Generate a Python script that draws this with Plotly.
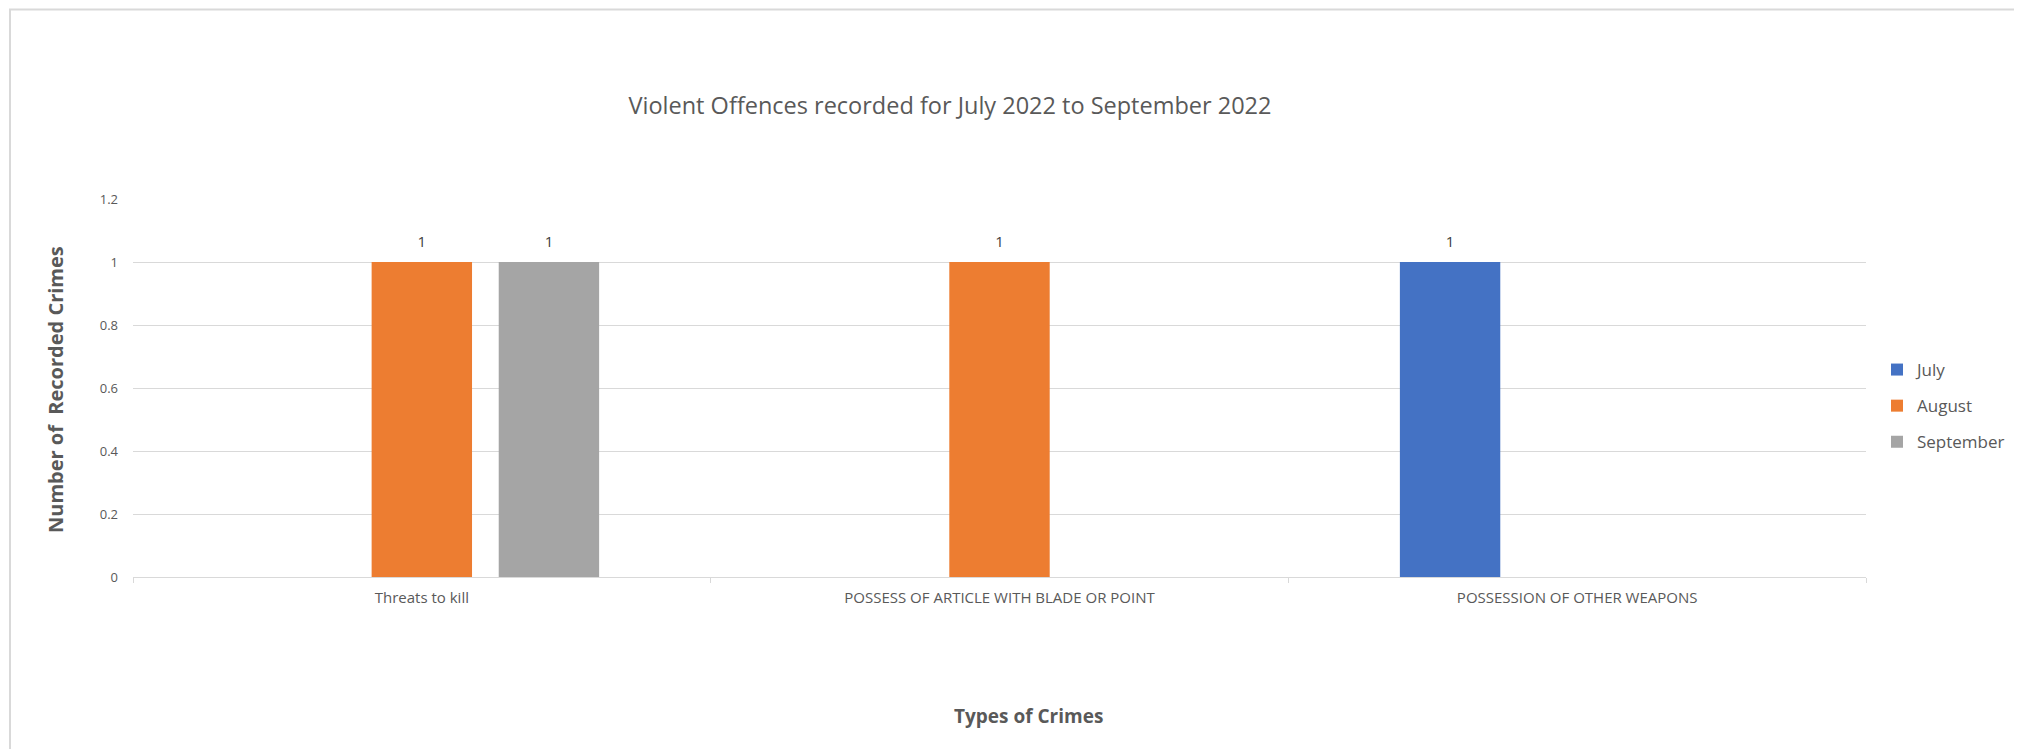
import plotly.graph_objects as go

categories = ["Threats to kill", "POSSESS OF ARTICLE WITH BLADE OR POINT", "POSSESSION OF OTHER WEAPONS"]
months = ["July", "August", "September"]
july = [None, None, 1]
august = [1, 1, None]
september = [1, None, None]
series_values = [july, august, september]
colors = ["#4472C4", "#ED7D31", "#A5A5A5"]
y_ticks = [0, 0.2, 0.4, 0.6, 0.8, 1, 1.2]
y_tick_labels = ["0", "0.2", "0.4", "0.6", "0.8", "1", "1.2"]

FONT = "Open Sans"
OFF = 8  # default page body margin
W, H = 2022 - 2 * OFF, 749 - OFF
L = 133 - OFF
T = 199 - OFF
R = W - (1866 - OFF)
B = H - (577 - OFF)
pw = W - L - R
ph = H - T - B


def px_x(p):
    return (p - OFF - L) / pw


def px_y(p):
    return (H - B - (p - OFF)) / ph


fig = go.Figure()
for name, vals, col in zip(months, series_values, colors):
    fig.add_trace(go.Bar(
        x=categories, y=vals, name=name, marker=dict(color=col, line=dict(width=0)),
        offsetgroup=name, alignmentgroup="g", legendgroup=name,
    ))
for name, vals, col in zip(months, series_values, colors):
    fig.add_trace(go.Scatter(
        x=categories, y=vals, mode="markers+text",
        text=[("%g" % v if v is not None else "") for v in vals],
        textposition="top center", marker=dict(size=16, opacity=0),
        textfont=dict(family=FONT, size=15, color="#404040"), cliponaxis=False,
        offsetgroup=name, alignmentgroup="g", showlegend=False, hoverinfo="skip",
    ))

fig.update_layout(
    width=W, height=H,
    margin=dict(l=L, r=R, t=T, b=B, autoexpand=False),
    paper_bgcolor="white", plot_bgcolor="white",
    barmode="group", bargap=0.34, bargroupgap=0.21,
    scattermode="group", scattergap=0.34,
    title=dict(text="Violent Offences recorded for July 2022 to September 2022",
               x=(950 - OFF) / W, y=1 - (106 - OFF) / H, xanchor="center", yanchor="middle",
               font=dict(family=FONT, size=23.5, color="#595959")),
    font=dict(family=FONT, color="#595959"),
    showlegend=True,
    legend=dict(x=px_x(1877), y=px_y(406), xanchor="left", yanchor="middle",
                font=dict(family=FONT, size=17, color="#595959"),
                tracegroupgap=11, bgcolor="rgba(0,0,0,0)"),
    xaxis=dict(type="category", showgrid=False, showline=True, linecolor="#D9D9D9", linewidth=1,
               ticks="outside", tickson="boundaries", ticklen=5, tickcolor="#D9D9D9",
               ticklabelstandoff=7,
               tickfont=dict(family=FONT, size=15, color="#595959")),
    yaxis=dict(range=[0, 1.2], tickvals=y_ticks, ticktext=y_tick_labels,
               showgrid=True, gridcolor="#D9D9D9", gridwidth=1, zeroline=False,
               showline=False, ticks="", ticklabelstandoff=14,
               tickfont=dict(family=FONT, size=13, color="#595959")),
    annotations=[
        dict(text="<b>Number of  Recorded Crimes</b>", textangle=-90, xref="paper", yref="paper",
             x=px_x(55), y=px_y(390), xanchor="center", yanchor="middle", showarrow=False,
             font=dict(family=FONT, size=20, color="#595959")),
        dict(text="<b>Types of Crimes</b>", xref="paper", yref="paper",
             x=px_x(1028), y=px_y(716), xanchor="center", yanchor="middle", showarrow=False,
             font=dict(family=FONT, size=19, color="#595959")),
    ],
    shapes=[dict(type="rect", xref="paper", yref="paper",
                 x0=px_x(10), x1=px_x(2019), y0=px_y(770), y1=px_y(9.5),
                 line=dict(color="#D9D9D9", width=2), fillcolor="rgba(0,0,0,0)", layer="below")],
)

fig.write_html("out.html")
